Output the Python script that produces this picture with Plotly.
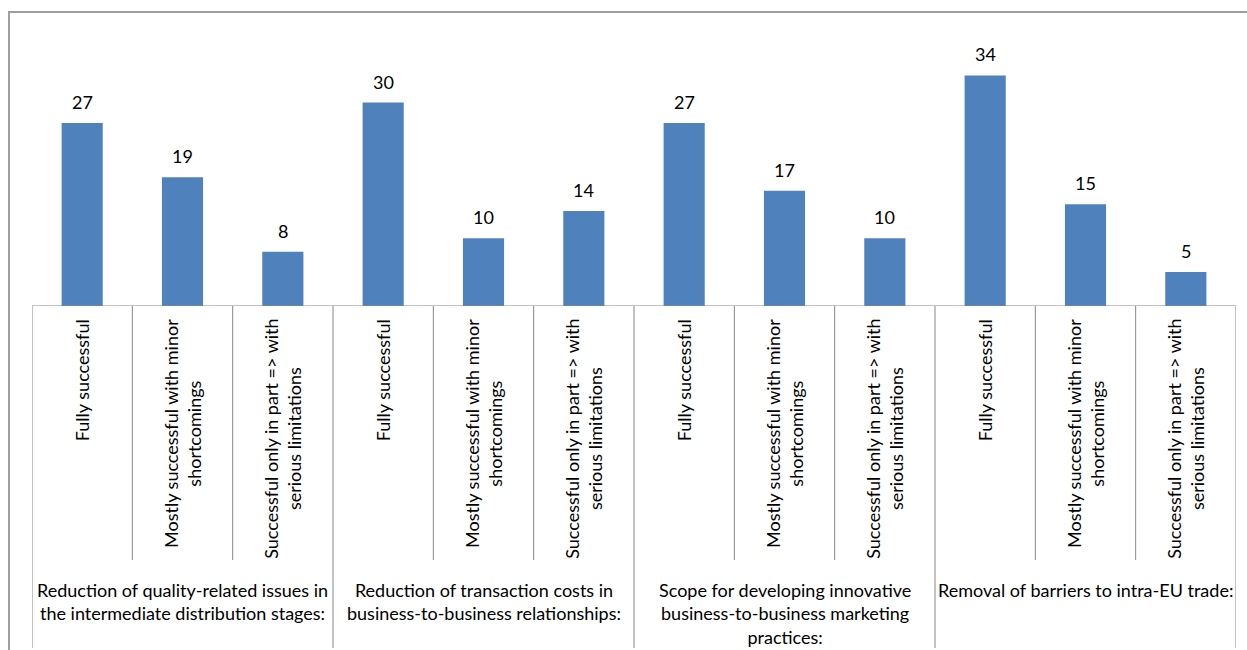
import plotly.graph_objects as go

# Survey results: share of answers per assessment, grouped by objective
groups = [
    "Reduction of quality-related issues in<br>the intermediate distribution stages:",
    "Reduction of transaction costs in<br>business-to-business relationships:",
    "Scope for developing innovative<br>business-to-business marketing<br>practices:",
    "Removal of barriers to intra-EU trade:",
]
answers = [
    "Fully successful",
    "Mostly successful with minor<br>shortcomings",
    "Successful only in part => with<br>serious limitations",
]
values = [27, 19, 8, 30, 10, 14, 27, 17, 10, 34, 15, 5]

W, H = 1247, 650
BAR_COLOR = "#4F81BD"
LINE_COLOR = "#868686"
FONT = "Lato"
FS = 18

n = len(values)
per_group = len(answers)
xs = [i + 0.5 for i in range(n)]

# pixel geometry of the plotting area
x_left, x_right = 32, 1236
y_base = 306          # pixel row of the category axis
px_per_unit = 6.78


def py(pix):
    """Convert a pixel row (from top) into paper coordinates."""
    return (H - pix) / H


fig = go.Figure()
fig.add_trace(go.Bar(
    x=xs, y=values, width=0.41,
    marker=dict(color=BAR_COLOR, line=dict(width=0)),
    hoverinfo="y",
))

annotations = []
# value labels above each bar
for x, v in zip(xs, values):
    annotations.append(dict(
        x=x, y=v, xref="x", yref="y", text=str(v), showarrow=False,
        yanchor="bottom", yshift=8, font=dict(family=FONT, size=FS, color="#000"),
    ))
# rotated answer labels
for i, x in enumerate(xs):
    annotations.append(dict(
        x=x, y=py(317), xref="x", yref="paper", text=answers[i % per_group],
        showarrow=False, textangle=-90, yanchor="top", xanchor="center",
        align="center", font=dict(family=FONT, size=FS, color="#000"),
    ))
# group labels
for g, label in enumerate(groups):
    annotations.append(dict(
        x=g * per_group + per_group / 2, y=py(577), xref="x", yref="paper",
        text=label, showarrow=False, yanchor="top", xanchor="center",
        align="center", font=dict(family=FONT, size=FS, color="#000"),
    ))

shapes = []
# category axis line
shapes.append(dict(type="line", xref="x", yref="y", x0=0, x1=n, y0=0, y1=0,
                   line=dict(color=LINE_COLOR, width=1)))
# category and group dividers
for k in range(n + 1):
    bottom = 648 if k % per_group == 0 else 560
    shapes.append(dict(type="line", xref="x", yref="paper", x0=k, x1=k,
                       y0=py(y_base), y1=py(bottom),
                       line=dict(color=LINE_COLOR, width=1)))
# chart frame
shapes.append(dict(type="rect", xref="paper", yref="paper",
                   x0=9 / W, x1=1.2, y0=-0.2, y1=py(12),
                   line=dict(color="#9F9F9F", width=2), fillcolor="rgba(0,0,0,0)",
                   layer="below"))

fig.update_layout(
    width=W, height=H,
    margin=dict(l=0, r=0, t=0, b=0),
    paper_bgcolor="white", plot_bgcolor="white",
    showlegend=False,
    font=dict(family=FONT, size=FS, color="#000"),
    xaxis=dict(domain=[x_left / W, x_right / W], range=[0, n],
               showticklabels=False, showgrid=False, zeroline=False, fixedrange=True),
    yaxis=dict(domain=[py(y_base), 1], range=[0, y_base / px_per_unit],
               showticklabels=False, showgrid=False, zeroline=False, fixedrange=True),
    annotations=annotations,
    shapes=shapes,
)

fig.write_html("out.html")
